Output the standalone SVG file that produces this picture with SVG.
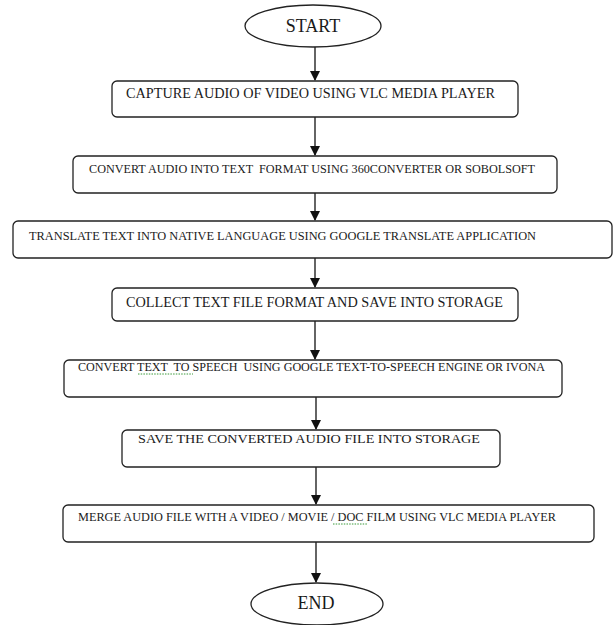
<svg xmlns="http://www.w3.org/2000/svg" width="616" height="625" viewBox="0 0 616 625">
<style>
.box{fill:#fff;stroke:#222;stroke-width:1.3}
.ell{fill:#fff;stroke:#222;stroke-width:1.3}
.t{font-family:"Liberation Serif","Times New Roman",serif;fill:#1a1a1a}
.c{stroke:#111;stroke-width:1.3;fill:none}
.sq{stroke:#3a9a3a;stroke-width:1;fill:none;stroke-dasharray:1.5 1.2}
</style>
<defs>
<marker id="ah" markerWidth="10" markerHeight="10" refX="9" refY="5" orient="auto" markerUnits="userSpaceOnUse">
<path d="M0,0 L10,5 L0,10 z" fill="#111"/>
</marker>
</defs>
<rect width="616" height="625" fill="#fff"/>
<g id="connectors">
<line class="c" x1="315" y1="47" x2="315" y2="80" marker-end="url(#ah)"/>
<line class="c" x1="315" y1="117" x2="315" y2="155" marker-end="url(#ah)"/>
<line class="c" x1="315" y1="193" x2="315" y2="220" marker-end="url(#ah)"/>
<line class="c" x1="315" y1="258" x2="315" y2="287" marker-end="url(#ah)"/>
<line class="c" x1="315" y1="321" x2="315" y2="359" marker-end="url(#ah)"/>
<line class="c" x1="316" y1="397" x2="316" y2="429" marker-end="url(#ah)"/>
<line class="c" x1="316" y1="467" x2="316" y2="504" marker-end="url(#ah)"/>
<line class="c" x1="316" y1="542" x2="316" y2="582" marker-end="url(#ah)"/>
</g>
<g id="start">
<ellipse class="ell" cx="313" cy="26" rx="68" ry="21"/>
<text class="t" x="313" y="32" font-size="18" text-anchor="middle">START</text>
</g>
<g id="step1">
<rect class="box" x="112" y="81" width="406" height="36" rx="5"/>
<text class="t" x="126" y="98" font-size="14" textLength="369" lengthAdjust="spacingAndGlyphs">CAPTURE AUDIO OF VIDEO USING VLC MEDIA PLAYER</text>
</g>
<g id="step2">
<rect class="box" x="73" y="156" width="484" height="37" rx="5"/>
<text class="t" x="89" y="173" font-size="12" textLength="446" lengthAdjust="spacingAndGlyphs" xml:space="preserve">CONVERT AUDIO INTO TEXT  FORMAT USING 360CONVERTER OR SOBOLSOFT</text>
</g>
<g id="step3">
<rect class="box" x="13" y="221" width="599" height="37" rx="5"/>
<text class="t" x="29" y="240" font-size="12" textLength="507" lengthAdjust="spacingAndGlyphs">TRANSLATE TEXT INTO NATIVE LANGUAGE USING GOOGLE TRANSLATE APPLICATION</text>
</g>
<g id="step4">
<rect class="box" x="112" y="288" width="406" height="33" rx="5"/>
<text class="t" x="126" y="307" font-size="14" textLength="377" lengthAdjust="spacingAndGlyphs">COLLECT TEXT FILE FORMAT AND SAVE INTO STORAGE</text>
</g>
<g id="step5">
<rect class="box" x="64" y="360" width="498" height="37" rx="5"/>
<text class="t" x="78" y="371" font-size="12" textLength="467" lengthAdjust="spacingAndGlyphs" xml:space="preserve">CONVERT TEXT  TO SPEECH  USING GOOGLE TEXT-TO-SPEECH ENGINE OR IVONA</text>
<path class="sq" d="M138,374 L193,374"/>
</g>
<g id="step6">
<rect class="box" x="122" y="430" width="378" height="37" rx="5"/>
<text class="t" x="138" y="443" font-size="13" textLength="342" lengthAdjust="spacingAndGlyphs">SAVE THE CONVERTED AUDIO FILE INTO STORAGE</text>
</g>
<g id="step7">
<rect class="box" x="63" y="505" width="531" height="37" rx="5"/>
<text class="t" x="78" y="521" font-size="12" textLength="478" lengthAdjust="spacingAndGlyphs" xml:space="preserve">MERGE AUDIO FILE WITH A VIDEO / MOVIE / DOC FILM USING VLC MEDIA PLAYER</text>
<path class="sq" d="M333,524 L368,524"/>
</g>
<g id="end">
<ellipse class="ell" cx="317" cy="604" rx="66" ry="21"/>
<text class="t" x="316" y="609" font-size="18" text-anchor="middle">END</text>
</g>
</svg>
